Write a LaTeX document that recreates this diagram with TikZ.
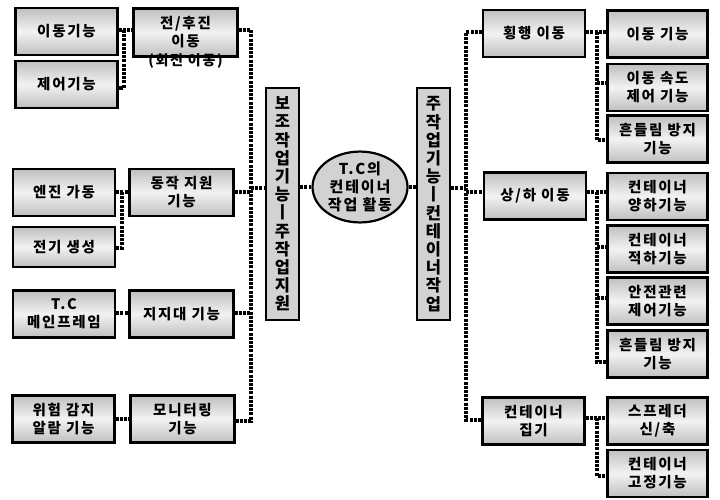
\documentclass[tikz,border=0pt]{standalone}
\usepackage{fontspec}
\newfontfamily\kr{Noto Sans CJK KR}[LetterSpace=12]
\usetikzlibrary{shapes.geometric}
\begin{document}
\begin{tikzpicture}[x=1pt,y=-1pt,
  box/.style={draw, line width=2.2pt, top color=gray!50, bottom color=gray!50, middle color=gray!10,
    inner sep=1pt, align=center, minimum height=47pt, font=\kr\bfseries\fontsize{14.5}{18}\selectfont},
  vbox/.style={draw, line width=2.2pt, fill=gray!35, inner sep=0pt, align=center,
    minimum width=33pt, minimum height=232pt, font=\kr\bfseries\fontsize{16.5}{18.2}\selectfont},
  ebox/.style={draw, ellipse, line width=2.2pt, fill=gray!35, inner sep=0pt, align=center,
    minimum width=95pt, minimum height=60pt, font=\kr\bfseries\fontsize{15}{18}\selectfont},
  note/.style={inner sep=0pt, font=\kr\bfseries\fontsize{14}{18}\selectfont},
  conn/.style={line width=3.3pt, dash pattern=on 3pt off 1.2pt},
  wa/.style={minimum width=102pt}, wb/.style={minimum width=104pt},
  wc/.style={minimum width=102pt}, wd/.style={minimum width=100pt}]
\useasboundingbox (0,0) rectangle (720,499);
% left outer column
\node[box,wa] (a1) at (66.5,31.5) {이동기능};
\node[box,wa] (a2) at (66.5,84.5) {제어기능};
\node[box,wa] (a3) at (64,192.5) {엔진 가동};
\node[box,wa,minimum height=40pt] (a4) at (64,247) {전기 생성};
\node[box,wa] (a5) at (64,314) {T.C\\메인프레임};
\node[box,wa] (a6) at (63.5,419) {위험 감지\\알람 기능};
% left inner column
\node[box,wb,minimum height=48pt] (b1) at (185.5,32.5) {전/후진\\이동};
\node[note] (b1n) at (185.5,61) {(회전 이동)};
\node[box,wb] (b2) at (181.5,192.5) {동작 지원\\기능};
\node[box,wb] (b3) at (181.5,314) {지지대 기능};
\node[box,wb] (b4) at (182.5,419) {모니터링\\기능};
% centre
\node[vbox] (L) at (282.5,204) {보\\조\\작\\업\\기\\능\\ㅣ\\주\\작\\업\\지\\원};
\node[ebox] (E) at (360,187) {T.C의\\컨테이너\\작업 활동};
\node[vbox] (R) at (433.5,204) {주\\작\\업\\기\\능\\ㅣ\\컨\\테\\이\\너\\작\\업};
% right inner column
\node[box,wc] (c1) at (534,33.5) {횡행 이동};
\node[box,wc] (c2) at (535,196) {상/하 이동};
\node[box,wc] (c3) at (533.5,421) {컨테이너\\집기};
% right outer column
\node[box,wd] (d1) at (657.5,34) {이동 기능};
\node[box,wd] (d2) at (657.5,87.5) {이동 속도\\제어 기능};
\node[box,wd] (d3) at (657.5,139) {흔들림 방지\\기능};
\node[box,wd] (d4) at (657.5,196.5) {컨테이너\\양하기능};
\node[box,wd] (d5) at (657.5,249) {컨테이너\\적하기능};
\node[box,wd] (d6) at (657.5,301) {안전관련\\제어기능};
\node[box,wd] (d7) at (657.5,354) {흔들림 방지\\기능};
\node[box,wd] (d8) at (657.5,421) {스프레더\\신/축};
\node[box,wd] (d9) at (657.5,473.5) {컨테이너\\고정기능};
% coordinates
\coordinate (g1t) at (124,30); \coordinate (g1b) at (124,88);
\coordinate (g2t) at (122,192); \coordinate (g2b) at (122,248);
\coordinate (h3) at (122,313); \coordinate (h4) at (122,419);
\coordinate (LT1) at (251,30); \coordinate (LT2) at (251,192);
\coordinate (LT3) at (251,313); \coordinate (LT4) at (251,421);
\coordinate (LM) at (251,188); \coordinate (RM) at (466,188);
\coordinate (RT1) at (466,32); \coordinate (RT2) at (466,192); \coordinate (RT3) at (466,420);
\coordinate (s1t) at (597,32); \coordinate (s12) at (597,83); \coordinate (s1b) at (597,140);
\coordinate (s2t) at (597,192); \coordinate (s25) at (597,247); \coordinate (s26) at (597,298); \coordinate (s2b) at (597,362);
\coordinate (s3t) at (597,418); \coordinate (s3b) at (597,476);
% connectors left
\draw[conn] (a1.east|-g1t) -- (b1.west|-g1t);
\draw[conn] (g1t) -- (g1b) -- (a2.east|-g1b);
\draw[conn] (a3.east|-g2t) -- (b2.west|-g2t);
\draw[conn] (g2t) -- (g2b) -- (a4.east|-g2b);
\draw[conn] (a5.east|-h3) -- (b3.west|-h3);
\draw[conn] (a6.east|-h4) -- (b4.west|-h4);
\draw[conn] (b1.east|-LT1) -- (LT1) -- (LT4) -- (b4.east|-LT4);
\draw[conn] (b2.east|-LT2) -- (LT2);
\draw[conn] (b3.east|-LT3) -- (LT3);
% centre connectors
\draw[conn] (LM) -- (L.west|-LM);
\draw[conn] (L.east|-E.west) -- (E.west);
\draw[conn] (E.east) -- (R.west|-E.east);
\draw[conn] (R.east|-RM) -- (RM);
% right connectors
\draw[conn] (c1.west|-RT1) -- (RT1) -- (RT3) -- (c3.west|-RT3);
\draw[conn] (RT2) -- (c2.west|-RT2);
\draw[conn] (c1.east|-s1t) -- (d1.west|-s1t);
\draw[conn] (s1t) -- (s1b) -- (d3.west|-s1b);
\draw[conn] (s12) -- (d2.west|-s12);
\draw[conn] (c2.east|-s2t) -- (d4.west|-s2t);
\draw[conn] (s2t) -- (s2b) -- (d7.west|-s2b);
\draw[conn] (s25) -- (d5.west|-s25);
\draw[conn] (s26) -- (d6.west|-s26);
\draw[conn] (c3.east|-s3t) -- (d8.west|-s3t);
\draw[conn] (s3t) -- (s3b) -- (d9.west|-s3b);
\end{tikzpicture}
\end{document}
